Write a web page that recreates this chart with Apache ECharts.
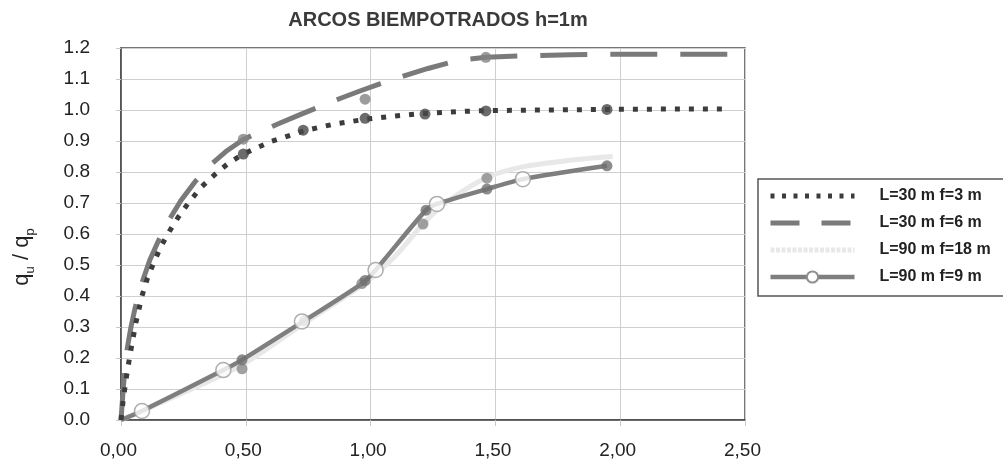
<!DOCTYPE html>
<html>
<head>
<meta charset="utf-8">
<script src="https://cdn.jsdelivr.net/npm/echarts@6/dist/echarts.min.js"></script>
<style>
  html, body { margin: 0; padding: 0; background: #fff; }
  #chart { width: 1003px; height: 468px; }
</style>
</head>
<body>
<div id="chart"></div>
<script>
// Ultimate load ratio qu/qp against displacement, fixed-end arches h = 1 m
const seriesNames = ['L=30 m f=3 m', 'L=30 m f=6 m', 'L=90 m f=18 m', 'L=90 m f=9 m'];

// L=30 m f=3 m : fitted curve and computed points
const curveF3 = [[0,0],[0.008,0.058],[0.02,0.13],[0.036,0.21],[0.06,0.315],[0.084,0.4],[0.105,0.455],[0.13,0.505],[0.16,0.56],[0.195,0.61],[0.23,0.655],[0.27,0.7],[0.32,0.75],[0.38,0.795],[0.43,0.828],[0.49,0.858],[0.6,0.898],[0.73,0.932],[0.85,0.954],[0.978,0.97],[1.1,0.981],[1.218,0.989],[1.35,0.995],[1.462,0.998],[1.7,1.0],[1.947,1.002],[2.2,1.003],[2.42,1.003]];
const pointsF3 = [[0.49,0.858],[0.73,0.935],[0.978,0.973],[1.218,0.987],[1.462,0.997],[1.947,1.002]];

// L=30 m f=6 m
const curveF6 = [[0,0],[0.008,0.09],[0.015,0.16],[0.024,0.226],[0.04,0.3],[0.056,0.36],[0.083,0.44],[0.115,0.515],[0.15,0.578],[0.19,0.642],[0.24,0.708],[0.296,0.768],[0.36,0.824],[0.42,0.866],[0.49,0.905],[0.56,0.931],[0.64,0.959],[0.72,0.986],[0.8,1.012],[0.88,1.038],[0.96,1.062],[1.04,1.085],[1.134,1.11],[1.23,1.134],[1.314,1.152],[1.39,1.164],[1.462,1.17],[1.6,1.175],[1.8,1.178],[2.0,1.18],[2.2,1.18],[2.45,1.18]];
const pointsF6 = [[0.49,0.906],[0.978,1.035],[1.462,1.17]];

// L=90 m f=18 m
const curveF18 = [[0,0],[0.2,0.07],[0.485,0.178],[0.73,0.31],[0.97,0.438],[1.1,0.53],[1.21,0.632],[1.3,0.7],[1.466,0.782],[1.6,0.815],[1.8,0.838],[1.97,0.85]];
const pointsF18 = [[0.485,0.165],[0.965,0.44],[1.21,0.632],[1.466,0.78]];

// L=90 m f=9 m
const curveF9 = [[0,0],[0.084,0.029],[0.41,0.161],[0.485,0.194],[0.73,0.318],[0.965,0.44],[1.02,0.484],[1.222,0.677],[1.266,0.697],[1.466,0.745],[1.61,0.777],[1.947,0.82]];
const circlesF9 = [[0.084,0.029],[0.41,0.161],[0.725,0.318],[1.02,0.484],[1.266,0.697],[1.61,0.777]];
const pointsF9 = [[0.485,0.194],[0.735,0.32],[0.978,0.45],[1.222,0.677],[1.466,0.745],[1.947,0.82]];

const xTicks = { min: 0, max: 2.5, step: 0.5 };
const yTicks = { min: 0, max: 1.2, step: 0.1 };

const FONT = '"Liberation Sans", Arial, sans-serif';
const chart = echarts.init(document.getElementById('chart'), null, { renderer: 'canvas' });

const dots = (data, color, size) => ({
  type: 'scatter', data, symbol: 'circle', symbolSize: size,
  itemStyle: { color }, legendHoverLink: false, silent: true
});

const hiddenMarker = { opacity: 0 };

chart.setOption({
  animation: false,
  backgroundColor: '#fff',
  title: {
    text: 'ARCOS BIEMPOTRADOS h=1m',
    left: 433, top: 5, textAlign: 'center',
    textStyle: { fontFamily: FONT, fontSize: 20, fontWeight: 'bold', color: '#3a3a3a' }
  },
  grid: {
    left: 121, right: 258, top: 48, bottom: 48, outerBoundsMode: 'none',
    show: true, borderColor: '#4a4a4a', borderWidth: 1.5, backgroundColor: 'transparent'
  },
  legend: {
    orient: 'vertical', left: 758, top: 179,
    itemWidth: 84, itemHeight: 14, itemGap: 11,
    padding: [9, 40, 11, 10],
    borderColor: '#555', borderWidth: 1.5, backgroundColor: '#fff',
    textStyle: { fontFamily: FONT, fontSize: 16, fontWeight: 'bold', color: '#222', padding: [0, 0, 0, 20] },
    data: [
      { name: seriesNames[0], itemStyle: hiddenMarker, lineStyle: { width: 5, type: [4, 7.5] } },
      { name: seriesNames[1], itemStyle: hiddenMarker, lineStyle: { width: 5, type: [29, 22] } },
      { name: seriesNames[2], itemStyle: hiddenMarker, lineStyle: { width: 5, type: [4, 1.5] } },
      { name: seriesNames[3], lineStyle: { width: 4.5 } }
    ]
  },
  xAxis: {
    type: 'value', min: xTicks.min, max: xTicks.max, interval: xTicks.step,
    axisLine: { show: true, lineStyle: { color: '#4a4a4a', width: 1.5 } },
    axisTick: { show: true, length: 6, lineStyle: { color: '#c8c8c8' } },
    splitLine: { show: true, lineStyle: { color: '#cfcfcf', width: 1 } },
    axisLabel: {
      margin: 21, fontFamily: FONT, fontSize: 19, color: '#222', padding: [0, 5, 0, 0],
      formatter: v => v.toFixed(2).replace('.', ',')
    }
  },
  yAxis: {
    type: 'value', min: yTicks.min, max: yTicks.max, interval: yTicks.step,
    name: 'q{sub|u} / q{sub|p}',
    nameLocation: 'middle', nameGap: 84, nameRotate: 90,
    nameTextStyle: {
      fontFamily: FONT, fontSize: 22, color: '#222', lineHeight: 30, padding: [0, 46, 0, 0],
      rich: { sub: { fontFamily: FONT, fontSize: 13, color: '#222', verticalAlign: 'bottom', lineHeight: 12 } }
    },
    axisLine: { show: true, lineStyle: { color: '#4a4a4a', width: 1.5 } },
    axisTick: { show: true, length: 5, lineStyle: { color: '#c8c8c8' } },
    splitLine: { show: true, lineStyle: { color: '#cfcfcf', width: 1 } },
    axisLabel: {
      margin: 31, fontFamily: FONT, fontSize: 19, color: '#222',
      formatter: v => v.toFixed(1)
    }
  },
  series: [
    {
      name: seriesNames[2], type: 'line', data: curveF18, smooth: 0.3,
      symbol: 'none', lineStyle: { color: '#e8e8e8', width: 5 }, itemStyle: { color: '#e8e8e8' }, z: 2
    },
    Object.assign(dots(pointsF18, '#8a8a8a', 11), { z: 3 }),
    {
      name: seriesNames[3], type: 'line', data: curveF9, smooth: 0.25,
      symbol: 'circle', symbolSize: 15, showSymbol: false,
      lineStyle: { color: '#7f7f7f', width: 4.5 },
      itemStyle: { color: '#ffffff', borderColor: '#8f8f8f', borderWidth: 1.5 }, z: 4
    },
    Object.assign(dots(pointsF9, '#707070', 11), { z: 5 }),
    {
      type: 'scatter', data: circlesF9, symbol: 'circle', symbolSize: 15, silent: true,
      itemStyle: { color: '#ffffff', borderColor: '#9a9a9a', borderWidth: 1.5 }, z: 6
    },
    {
      name: seriesNames[1], type: 'line', data: curveF6, smooth: false,
      symbol: 'none', lineStyle: { color: '#7a7a7a', width: 5, type: [47, 23], cap: 'butt', join: 'round' },
      itemStyle: { color: '#7a7a7a' }, z: 7
    },
    Object.assign(dots(pointsF6, '#838383', 11), { z: 8 }),
    {
      name: seriesNames[0], type: 'line', data: curveF3, smooth: false,
      symbol: 'none', lineStyle: { color: '#3c3c3c', width: 5, type: [5, 9], cap: 'butt', join: 'round' },
      itemStyle: { color: '#3c3c3c' }, z: 9
    },
    Object.assign(dots(pointsF3, '#474747', 11), { z: 10 })
  ]
});
</script>
</body>
</html>
